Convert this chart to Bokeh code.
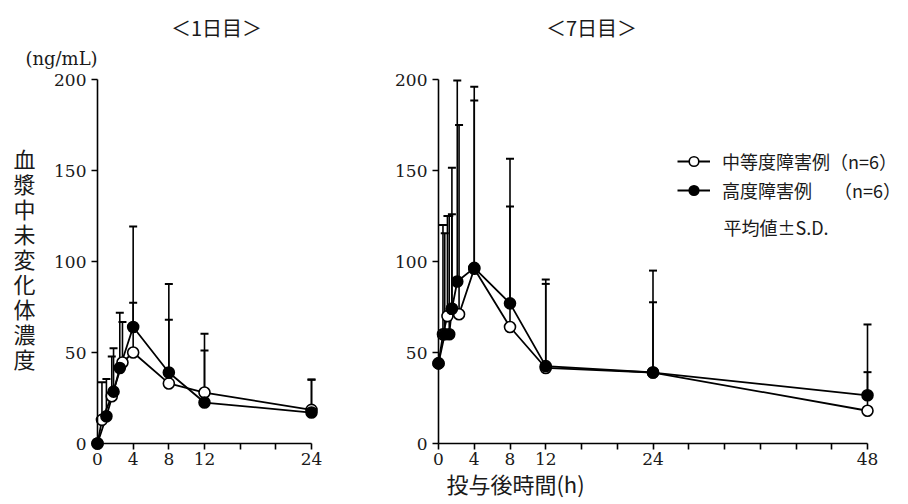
from bokeh.plotting import figure
from bokeh.models import Range1d, FixedTicker, Label, Legend, LegendItem
from bokeh.layouts import row
from bokeh.embed import file_html
from bokeh.resources import INLINE

# ---------------- data ----------------
# Day 1 (1日目)
mod_t1 = [0, 0.5, 1.6, 2.8, 4, 8, 12, 24]
mod_c1 = [0, 13, 26, 44.5, 50, 33, 28, 18.5]
mod_u1 = [0, 33.7, 47.8, 66.7, 77.3, 68, 60.3, 35]
sev_t1 = [0, 1, 1.8, 2.5, 4, 8, 12, 24]
sev_c1 = [0, 15, 28.5, 41.5, 64, 39, 22.5, 17]
sev_u1 = [0, 35.5, 52.4, 71.8, 119.2, 87.7, 51.1, 35.2]

# Day 7 (7日目)
mod_t7 = [0, 0.5, 1, 1.5, 2.3, 4, 8, 12, 24, 48]
mod_c7 = [44, 60, 70, 74, 71, 96, 64, 41.5, 39, 18]
mod_u7 = [44, 120, 125, 126, 175, 188.5, 130.2, 87.7, 77.6, 39.2]
sev_t7 = [0, 0.7, 1.2, 1.5, 2.1, 4, 8, 12, 24, 48]
sev_c7 = [44, 60, 60, 74, 89, 96.5, 77, 42.5, 39, 26.5]
sev_u7 = [44, 115.5, 125, 151.5, 199.5, 196, 156.4, 90.1, 95, 65.4]

y_ticks = [0, 50, 100, 150, 200]
x_ticks1 = [0, 4, 8, 12, 16, 20, 24]
x_labels1 = [0, 4, 8, 12, 24]
x_ticks7 = [0, 4, 8, 12, 16, 20, 24, 28, 32, 36, 40, 44, 48]
x_labels7 = [0, 4, 8, 12, 24, 48]

mod_label = "中等度障害例（n=6）"
sev_label = "高度障害例　 （n=6）"
title1 = "＜1日目＞"
title7 = "＜7日目＞"
y_label = "血漿中未変化体濃度"
unit_label = "(ng/mL)"
x_label = "投与後時間(h)"
sd_note = "平均値±S.D."

NUM_FONT = "DejaVu Serif"
JP_FONT = "Noto Sans CJK JP"
INK = "#1a1a1a"

# ---------------- geometry (pixels) ----------------
H = 500
W1 = 340
W2 = 564
Y0_PX = 443          # where y = 0 lies
PXY = (443 - 79) / 200.0
AX1_PX, PXH1 = 97, (311 - 97) / 24.0
AX2_PX, PXH2 = 438, (867 - 438) / 48.0


def make_panel(width, fig_left, ax_px, pxh, xmax, xticks, xlabels):
    x0 = (fig_left - ax_px) / pxh
    x1 = (fig_left + width - ax_px) / pxh
    y0 = (Y0_PX - H) / PXY
    y1 = Y0_PX / PXY
    p = figure(width=width, height=H, output_backend="svg", toolbar_location=None,
               x_range=Range1d(x0, x1), y_range=Range1d(y0, y1), min_border=0)
    p.outline_line_color = None
    p.grid.visible = False
    for ax in (p.xaxis, p.yaxis):
        ax.fixed_location = 0
        ax.axis_line_width = 1.6
        ax.major_tick_line_width = 1.6
        ax.major_tick_out = 6
        ax.major_tick_in = 0
        ax.minor_tick_out = 0
        ax.minor_tick_in = 0
        ax.major_label_text_font = NUM_FONT
        ax.major_label_text_font_size = "17px"
        ax.major_label_text_color = INK
        ax.axis_line_color = "black"
        ax.major_tick_line_color = "black"
    p.xaxis.bounds = (0, xmax)
    p.yaxis.bounds = (0, 200)
    p.xaxis.ticker = FixedTicker(ticks=xticks, minor_ticks=[])
    p.yaxis.ticker = FixedTicker(ticks=y_ticks, minor_ticks=[])
    p.xaxis.major_label_overrides = {t: (str(t) if t in xlabels else "") for t in xticks}
    p.xaxis.major_label_standoff = 3
    p.yaxis.major_label_standoff = 5
    return p


def draw_series(p, t_m, c_m, u_m, t_s, c_s, u_s):
    for t, c, u in ((t_m, c_m, u_m), (t_s, c_s, u_s)):
        p.segment(x0=t, y0=c, x1=t, y1=u, line_color="black", line_width=1.6)
        p.scatter(x=t, y=u, marker="dash", size=8, line_color="black", line_width=2)
    lm = p.line(t_m, c_m, line_color="black", line_width=1.8)
    ls = p.line(t_s, c_s, line_color="black", line_width=1.8)
    sm = p.scatter(t_m, c_m, marker="circle", size=11, fill_color="white",
                   line_color="black", line_width=1.6)
    ss = p.scatter(t_s, c_s, marker="circle", size=11, fill_color="black",
                   line_color="black", line_width=1.6)
    return lm, ls, sm, ss


def text(p, x, y, s, font, size, align="center"):
    p.add_layout(Label(x=x, y=y, text=s, text_font=font, text_font_size=size,
                       text_align=align, text_baseline="middle", text_color=INK))


def dy(py):
    return (Y0_PX - py) / PXY


# ---------------- left panel (day 1) ----------------
p1 = make_panel(W1, 0, AX1_PX, PXH1, 24, x_ticks1, x_labels1)
draw_series(p1, mod_t1, mod_c1, mod_u1, sev_t1, sev_c1, sev_u1)


def d1x(px):
    return (px - AX1_PX) / PXH1


text(p1, d1x(216), dy(27), title1, JP_FONT, "20px")
text(p1, d1x(61), dy(58), unit_label, NUM_FONT, "18px")
for i, ch in enumerate(y_label):
    text(p1, d1x(24), dy(157 + 25 * i), ch, JP_FONT, "22px")

# ---------------- right panel (day 7) ----------------
p2 = make_panel(W2, W1, AX2_PX, PXH2, 48, x_ticks7, x_labels7)
lm, ls, sm, ss = draw_series(p2, mod_t7, mod_c7, mod_u7, sev_t7, sev_c7, sev_u7)


def d2x(px):
    return (px - AX2_PX) / PXH2


text(p2, d2x(591), dy(27), title7, JP_FONT, "20px")
text(p2, d2x(515), dy(482), x_label, JP_FONT, "22px")
text(p2, d2x(723), dy(226), sd_note, JP_FONT, "18px", align="left")

legend = Legend(items=[LegendItem(label=mod_label, renderers=[lm, sm]),
                       LegendItem(label=sev_label, renderers=[ls, ss])],
                location=(677 - W1, H - 203),
                label_text_font=JP_FONT, label_text_font_size="18px",
                label_text_color=INK,
                glyph_width=33, glyph_height=24, label_height=24, spacing=3,
                padding=0, margin=0, label_standoff=12,
                border_line_color=None, background_fill_alpha=0)
p2.add_layout(legend)

layout = row(p1, p2)
open("out.html", "w").write(file_html(layout, INLINE))
